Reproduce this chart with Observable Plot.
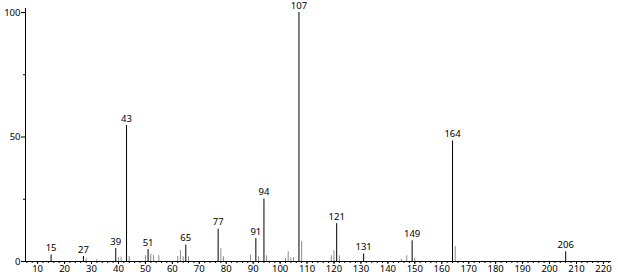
<!DOCTYPE html>
<html>
<head>
<meta charset="utf-8">
<script src="https://cdn.jsdelivr.net/npm/d3@7"></script>
<script src="https://cdn.jsdelivr.net/npm/@observablehq/plot@0.6"></script>
<style>
  html, body { margin: 0; padding: 0; background: #fff; }
  #chart svg { display: block; }
</style>
</head>
<body>
<div id="chart"></div>
<script>
// m/z values and relative intensities
const mz = [15, 27, 28, 32, 39, 40, 41, 43, 44, 50, 51, 52, 53, 55, 62, 63, 64, 65, 66,
            77, 78, 79, 89, 91, 92, 94, 95, 102, 103, 104, 105, 107, 108,
            119, 120, 121, 122, 131, 145, 147, 149, 150, 164, 165, 206];
const intensity = [2.6, 2.0, 1.2, 0.7, 5.2, 1.5, 1.8, 54.6, 2.0, 2.3, 4.8, 3.0, 2.4, 2.3, 2.0, 4.3, 1.9, 6.6, 1.8,
                   13.0, 5.1, 1.9, 2.6, 9.2, 1.9, 25.1, 2.3, 1.2, 3.9, 1.4, 1.6, 100, 8.0,
                   2.3, 4.3, 15.2, 2.3, 3.0, 0.9, 2.3, 8.3, 1.4, 48.4, 6.0, 3.9];
const labeled = [15, 27, 39, 43, 51, 65, 77, 91, 94, 107, 121, 131, 149, 164, 206];
const xTicks = [10, 20, 30, 40, 50, 60, 70, 80, 90, 100, 110, 120, 130, 140, 150, 160, 170, 180, 190, 200, 210, 220];
const yTicks = [0, 50, 100];
const yMinorTicks = [25, 75];

const peaks = mz.map((m, i) => ({mz: m, value: intensity[i], labeled: labeled.includes(m)}));
const xMinor = d3.range(6, 223, 2);

const font = "'Noto Sans', sans-serif";

const chart = Plot.plot({
  width: 618,
  height: 277,
  marginLeft: 25,
  marginRight: 7,
  marginTop: 8,
  marginBottom: 16,
  style: {fontFamily: font, background: "#fff"},
  x: {domain: [5.5, 223], label: null},
  y: {domain: [0, 101.6], label: null},
  marks: [
    // minor x ticks
    Plot.axisX({ticks: xMinor, tickSize: 2, tickFormat: () => "", stroke: "#000", label: null}),
    // major x ticks
    Plot.axisX({ticks: xTicks, tickSize: 3, tickPadding: 1, fontSize: 9.5, stroke: "#000", fill: "#000", label: null}),
    // y ticks
    Plot.axisY({ticks: yMinorTicks, tickSize: 2, tickFormat: () => "", stroke: "#000", label: null}),
    Plot.axisY({ticks: yTicks, tickSize: 4, tickPadding: 1, fontSize: 9.5, stroke: "#000", fill: "#000", label: null}),
    // axis lines
    Plot.ruleY([0], {x1: 5.5, x2: 223, stroke: "#000", strokeWidth: 1}),
    Plot.ruleX([5.5], {y1: 0, y2: 101.6, stroke: "#000", strokeWidth: 1}),
    // peaks
    Plot.ruleX(peaks.filter(d => !d.labeled), {x: "mz", y1: 0, y2: "value", stroke: "#8c8c8c", strokeWidth: 1}),
    Plot.ruleX(peaks.filter(d => d.labeled), {x: "mz", y1: 0, y2: "value", stroke: "#000", strokeWidth: 1}),
    Plot.text(peaks.filter(d => d.labeled), {x: "mz", y: "value", text: d => String(d.mz), dy: -7, fontSize: 9.5, fill: "#000"})
  ]
});
document.getElementById("chart").appendChild(chart);
</script>
</body>
</html>
